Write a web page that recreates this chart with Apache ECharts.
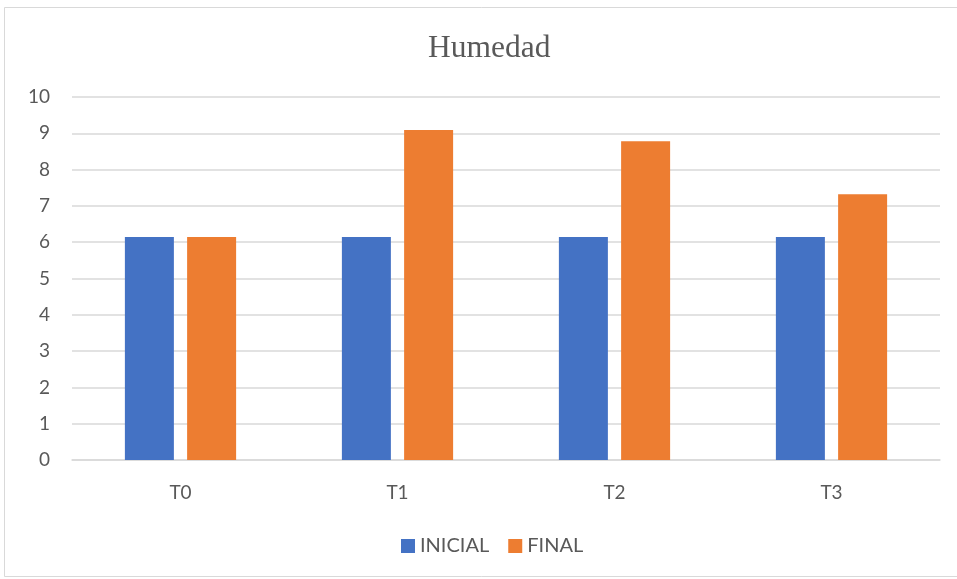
<!DOCTYPE html>
<html>
<head>
<meta charset="utf-8">
<script src="https://cdn.jsdelivr.net/npm/echarts@6/dist/echarts.min.js"></script>
<style>
  html, body { margin: 0; padding: 0; background: #ffffff; }
  #chart { width: 957px; height: 579px; }
</style>
</head>
<body>
<div id="chart"></div>
<script>
// Moisture readings per treatment
const categories = ['T0', 'T1', 'T2', 'T3'];
const inicial = [6.14, 6.14, 6.14, 6.14];
const final = [6.14, 9.09, 8.78, 7.32];
const yTicks = { min: 0, max: 10, interval: 1 };

const labelFont = 'Lato, "Noto Sans", sans-serif';
const textColor = '#595959';

const chart = echarts.init(document.getElementById('chart'));
chart.setOption({
  backgroundColor: '#ffffff',
  animation: false,
  title: {
    text: 'Humedad',
    left: 423,
    top: 28,
    textStyle: {
      fontFamily: '"Liberation Serif", "DejaVu Serif", serif',
      fontSize: 31.5,
      fontWeight: 'normal',
      color: textColor
    }
  },
  graphic: [{
    type: 'rect',
    shape: { x: 4.5, y: 7.5, width: 960, height: 569 },
    style: { fill: 'none', stroke: '#d9d9d9', lineWidth: 1 },
    silent: true
  }],
  legend: {
    bottom: 18,
    left: 396,
    itemWidth: 14,
    itemHeight: 14,
    itemGap: 19,
    icon: 'rect',
    textStyle: { fontFamily: labelFont, fontSize: 20, color: textColor },
    data: ['INICIAL', 'FINAL']
  },
  grid: { left: 72, right: 17, top: 97, bottom: 119, containLabel: false },
  xAxis: {
    type: 'category',
    data: categories,
    axisLine: { lineStyle: { color: '#d9d9d9', width: 1.5 } },
    axisTick: { show: false },
    axisLabel: { fontFamily: labelFont, fontSize: 19, color: textColor, margin: 23 }
  },
  yAxis: {
    type: 'value',
    min: yTicks.min,
    max: yTicks.max,
    interval: yTicks.interval,
    axisLine: { show: false },
    axisTick: { show: false },
    splitLine: { lineStyle: { color: '#d9d9d9', width: 1.5 } },
    axisLabel: { fontFamily: labelFont, fontSize: 19, color: textColor, margin: 22 }
  },
  series: [
    {
      name: 'INICIAL',
      type: 'bar',
      data: inicial,
      barWidth: 49,
      barGap: '27%',
      itemStyle: { color: '#4472C4' }
    },
    {
      name: 'FINAL',
      type: 'bar',
      data: final,
      barWidth: 49,
      barGap: '27%',
      itemStyle: { color: '#ED7D31' }
    }
  ]
});
</script>
</body>
</html>
